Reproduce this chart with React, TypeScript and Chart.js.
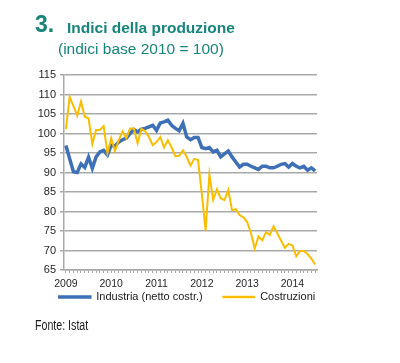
import React, { useEffect, useRef } from 'react';
import { Chart, registerables } from 'chart.js';

Chart.register(...registerables);

// ---- data ----
const startYear = 2009;
const monthCount = 67; // Jan 2009 .. Jul 2014
const categories: string[] = Array.from({ length: monthCount }, (_, i) =>
  `${startYear + Math.floor(i / 12)}-${String((i % 12) + 1).padStart(2, '0')}`
);
const yearTickLabels = ['2009', '2010', '2011', '2012', '2013', '2014'];
const seriesNames = ['Industria (netto costr.)', 'Costruzioni'];

const industria = [
  96.9, 93.5, 90.2, 90.0, 92.2, 91.3, 93.9, 91.1, 94.0, 95.3,
  95.7, 94.5, 97.0, 96.8, 97.8, 98.4, 98.8, 100.0, 101.0, 100.4,
  101.1, 101.3, 101.7, 102.1, 100.8, 102.7, 103.0, 103.4, 102.1, 101.3,
  100.7, 102.6, 99.1, 98.4, 99.0, 99.0, 96.4, 96.1, 96.4, 95.3,
  95.7, 94.0, 94.8, 95.5, 94.0, 92.7, 91.4, 92.1, 92.1, 91.6,
  91.2, 90.8, 91.6, 91.6, 91.2, 91.2, 91.6, 92.1, 92.3, 91.4,
  92.3, 91.6, 91.2, 91.6, 90.6, 91.2, 90.4,
];

const costruzioni = [
  101.1, 109.4, 107.0, 104.6, 108.2, 104.3, 103.9, 97.3, 100.9, 100.9,
  101.9, 95.0, 98.8, 95.5, 98.3, 100.5, 98.8, 101.3, 101.3, 97.5,
  101.2, 100.6, 99.1, 97.0, 97.8, 99.1, 96.4, 98.3, 96.4, 94.2,
  94.3, 95.7, 94.0, 91.8, 93.5, 93.2, 84.5, 75.1, 89.5, 83.0,
  85.7, 83.4, 82.9, 85.5, 80.3, 80.6, 79.1, 78.5, 77.3, 74.5,
  70.5, 73.6, 72.6, 74.7, 74.0, 76.2, 74.4, 72.5, 70.7, 71.7,
  71.3, 68.5, 69.9, 69.9, 69.1, 67.9, 66.4,
];

const yMin = 65;
const yMax = 115;
const yStep = 5;

const BLUE = '#3d70b6';
const YELLOW = '#fbbd00';
const TEAL = '#17857a';
const GRID = '#a9a9a9';
const SANS = "'Liberation Sans', Arial, sans-serif";
const LEGEND_FONT = 11;

// moves the built-in legend just under the year labels, centred under the plot
const legendPlacer = {
  id: 'legendPlacer',
  afterLayout(chart: any) {
    const lg = chart.legend;
    if (!lg) return;
    const area = chart.chartArea;
    const pad = lg.options.labels.padding;
    const targetCenterY = area.bottom + 27;
    const top = targetCenterY - pad - LEGEND_FONT / 2;
    lg.top = top;
    lg.height = 60;
    lg.bottom = top + 60;
    const cx = (area.left + area.right) / 2 - 3.5;
    lg.left = cx - 165;
    lg.right = cx + 165;
    lg.width = 330;
  },
};

export default function App() {
  const ref = useRef<HTMLCanvasElement | null>(null);

  useEffect(() => {
    if (!ref.current) return;
    const chart = new Chart(ref.current, {
      type: 'line',
      data: {
        labels: categories,
        datasets: [
          {
            label: seriesNames[0],
            data: industria,
            borderColor: BLUE,
            backgroundColor: BLUE,
            borderWidth: 3.5,
            pointRadius: 0,
            tension: 0,
            order: 2,
          },
          {
            label: seriesNames[1],
            data: costruzioni,
            borderColor: YELLOW,
            backgroundColor: YELLOW,
            borderWidth: 2,
            pointRadius: 0,
            tension: 0,
            order: 1,
          },
        ],
      },
      plugins: [legendPlacer],
      options: {
        responsive: false,
        animation: false,
        devicePixelRatio: 1,
        layout: { padding: { left: 0, right: 83, top: 75, bottom: 41 } },
        plugins: {
          tooltip: { enabled: false },
          title: { display: false },
          legend: {
            position: 'bottom',
            maxHeight: 30,
            labels: {
              boxWidth: 32,
              boxHeight: 2,
              padding: 20,
              color: '#1a1a1a',
              font: { family: SANS, size: LEGEND_FONT },
              sort: (a: any, b: any) => a.datasetIndex - b.datasetIndex,
              generateLabels: (c: any) => {
                const items = (Chart.defaults.plugins.legend.labels as any).generateLabels(c);
                return items.map((it: any) => ({
                  ...it,
                  fillStyle: it.strokeStyle,
                  lineWidth: it.datasetIndex === 0 ? 1.5 : 0.5,
                }));
              },
            },
          },
        },
        scales: {
          x: {
            type: 'category',
            offset: true,
            afterFit: (s: any) => {
              s.height = 22;
            },
            grid: {
              display: true,
              drawOnChartArea: false,
              drawTicks: true,
              tickLength: 3,
              color: GRID,
              lineWidth: 1,
            },
            border: { display: true, color: GRID, width: 1.5 },
            ticks: {
              autoSkip: false,
              maxRotation: 0,
              minRotation: 0,
              padding: 5,
              color: '#262626',
              font: { family: SANS, size: 10.5 },
              callback: (_v: any, index: number) => {
                const y = categories[index].slice(0, 4);
                return categories[index].endsWith('-01') && yearTickLabels.includes(y) ? y : '';
              },
            },
          },
          y: {
            min: yMin,
            max: yMax,
            afterFit: (s: any) => {
              s.width = 64;
            },
            grid: {
              color: GRID,
              lineWidth: 1.5,
              drawTicks: true,
              tickLength: 4,
            },
            border: { display: true, color: GRID, width: 1.5 },
            ticks: {
              stepSize: yStep,
              padding: 4,
              color: '#262626',
              font: { family: SANS, size: 11 },
            },
          },
        },
      },
    });
    return () => chart.destroy();
  }, []);

  return (
    <div style={{ position: 'absolute', left: 0, top: 0, width: 400, height: 363, background: '#fff' }}>
      <canvas ref={ref} width={400} height={363} style={{ position: 'absolute', left: 0, top: 0, width: 400, height: 363 }} />
      <div style={{ position: 'absolute', left: 35, top: 13, fontFamily: SANS, fontWeight: 'bold', fontSize: 23, lineHeight: '23px', color: TEAL, whiteSpace: 'nowrap' }}>
        3.
      </div>
      <div style={{ position: 'absolute', left: 67, top: 20, fontFamily: SANS, fontWeight: 'bold', fontSize: 15.5, lineHeight: '15.5px', color: TEAL, whiteSpace: 'nowrap' }}>
        Indici della produzione
      </div>
      <div style={{ position: 'absolute', left: 58, top: 41, fontFamily: SANS, fontSize: 15.5, lineHeight: '15.5px', color: TEAL, whiteSpace: 'nowrap' }}>
        (indici base 2010 = 100)
      </div>
      <div style={{ position: 'absolute', left: 35, top: 318, fontFamily: SANS, fontSize: 14, lineHeight: '14px', color: '#1a1a1a', whiteSpace: 'nowrap', transform: 'scaleX(0.76)', transformOrigin: 'left top' }}>
        Fonte: Istat
      </div>
    </div>
  );
}
